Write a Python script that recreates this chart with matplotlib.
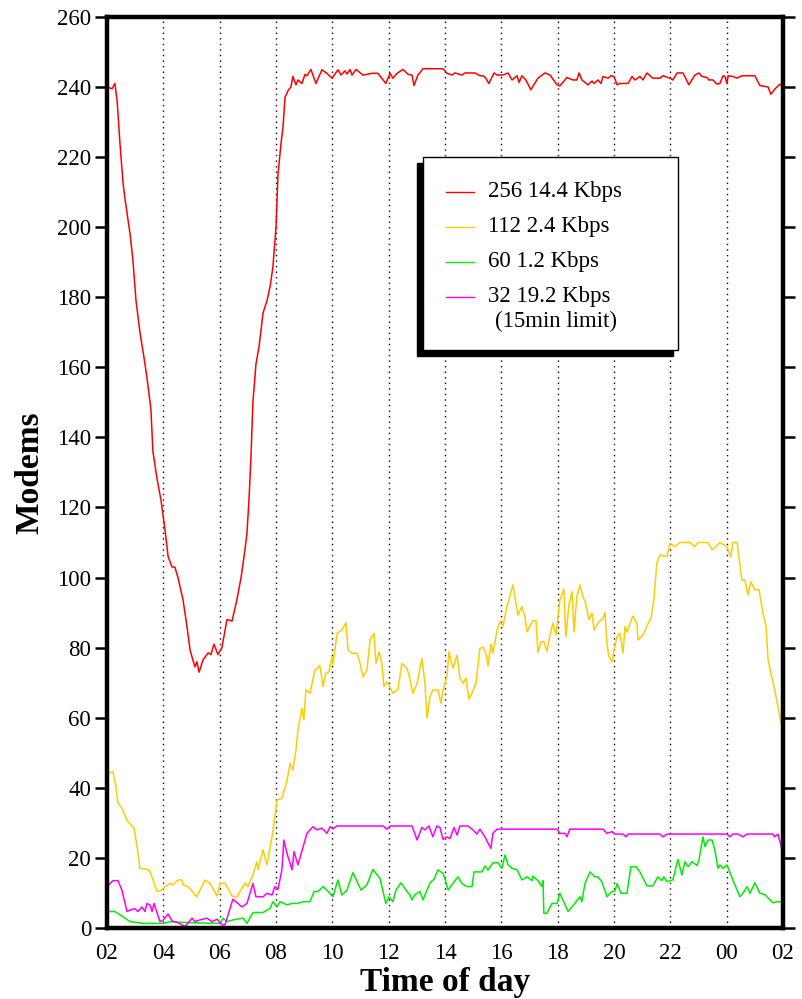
import matplotlib
matplotlib.use("Agg")
import matplotlib.pyplot as plt
from matplotlib.patches import Rectangle
from matplotlib.lines import Line2D

plt.rcParams['font.family'] = ['Liberation Serif', 'DejaVu Serif']

# time in hours since midnight of day 1 (02:00 .. 02:00 next day)
red_t = [2.00, 2.18, 2.28, 2.36, 2.46, 2.57, 2.64, 2.82, 2.92, 3.03, 3.17, 3.31, 3.42, 3.56, 3.63,
         3.78, 3.92, 4.06, 4.17, 4.31, 4.41, 4.52, 4.70, 4.84, 4.95, 5.12, 5.19, 5.27, 5.41, 5.59,
         5.69, 5.80, 5.94, 6.08, 6.26, 6.44, 6.61, 6.76, 6.90, 6.97, 7.04, 7.11, 7.18, 7.29, 7.40,
         7.54, 7.68, 7.79, 7.89, 8.00, 8.07, 8.18, 8.25, 8.32, 8.43, 8.53, 8.60, 8.71, 8.78, 8.92,
         9.03, 9.10, 9.24, 9.42, 9.63, 9.81, 9.99, 10.20, 10.31, 10.45, 10.52, 10.63, 10.70, 10.84,
         11.09, 11.41, 11.62, 11.90, 12.05, 12.15, 12.30, 12.51, 12.69, 12.83, 12.90, 13.04, 13.22,
         13.93, 14.07, 14.25, 14.35, 14.60, 14.71, 15.06, 15.24, 15.35, 15.45, 15.56, 15.74, 15.85,
         16.06, 16.24, 16.38, 16.56, 16.63, 16.73, 16.87, 17.05, 17.30, 17.55, 17.73, 17.98, 18.08,
         18.33, 18.54, 18.68, 18.76, 18.86, 19.08, 19.22, 19.29, 19.43, 19.54, 19.61, 19.79, 19.89,
         20.00, 20.11, 20.21, 20.50, 20.64, 20.74, 20.92, 21.03, 21.17, 21.38, 21.63, 21.74, 21.99,
         22.09, 22.24, 22.45, 22.66, 22.87, 23.02, 23.12, 23.30, 23.37, 23.51, 23.66, 23.76, 23.87,
         23.94, 24.01, 24.05, 24.22, 24.37, 24.54, 25.00, 25.18, 25.47, 25.57, 25.71, 25.89, 26.00]
red_v = [240, 239.5, 241, 236, 224, 212.6, 208, 198, 190.6, 179, 170, 163, 157, 148, 136,
         128, 122, 113.6, 106, 103, 103, 100, 93.6, 86, 79.3, 74.5, 76, 73, 76.5, 78.5,
         78, 81, 78, 80, 88, 87.6, 93.6, 100, 108, 112.7, 122, 134, 150, 161, 166,
         175.5, 179, 183, 188.6, 200, 215, 224, 228.6, 237, 239, 240, 243, 240.6, 242, 241,
         243.6, 243.2, 245, 241, 244.9, 243.9, 242.5, 244.9, 243.4, 244.6, 243.7, 245, 243.4, 245,
         243.4, 243.9, 243.9, 241, 243.9, 242.5, 243.9, 245, 243.6, 243.4, 240.4, 243.4, 245.2,
         245.2, 243.9, 243.4, 244, 243.4, 244, 244, 243.2, 243.2, 242.5, 241, 244, 243.4,
         243.4, 244, 242, 243.2, 241.3, 243.2, 242, 239.2, 242.5, 244, 243.4, 240.6, 240.3,
         242.7, 242, 242, 244, 242, 240.6, 241.7, 241, 242, 241, 243, 242.5, 243.2,
         243, 240.6, 241, 241, 243, 242, 243, 242, 244, 242.5, 242.5, 243.2, 242.5,
         242, 244, 244, 240.6, 243.4, 244, 243, 242.7, 242, 242, 240.8, 241, 243.2,
         243, 241, 243.2, 243, 242.5, 243.2, 243.2, 240.4, 240, 237.9, 239.4, 240.8, 240]

yel_t = [2.00, 2.07, 2.21, 2.32, 2.39, 2.53, 2.71, 2.89, 2.96, 3.07, 3.17, 3.46, 3.53, 3.78, 3.95,
         4.06, 4.24, 4.34, 4.52, 4.66, 4.70, 4.88, 5.19, 5.48, 5.66, 5.91, 6.01, 6.19, 6.44, 6.61,
         6.72, 6.90, 7.00, 7.18, 7.32, 7.36, 7.54, 7.68, 7.86, 8.04, 8.21, 8.39, 8.50, 8.60, 8.71,
         8.78, 8.92, 8.99, 9.06, 9.21, 9.38, 9.56, 9.67, 9.77, 9.88, 9.99, 10.02, 10.17, 10.34,
         10.48, 10.56, 10.70, 10.88, 10.98, 11.09, 11.23, 11.34, 11.48, 11.55, 11.66, 11.76, 11.83,
         11.94, 12.15, 12.33, 12.47, 12.65, 12.72, 12.86, 13.01, 13.18, 13.29, 13.36, 13.47, 13.57,
         13.75, 13.86, 13.93, 14.07, 14.14, 14.28, 14.43, 14.53, 14.64, 14.74, 14.85, 14.96, 15.10,
         15.24, 15.35, 15.45, 15.53, 15.63, 15.70, 15.85, 15.95, 16.06, 16.20, 16.41, 16.59, 16.73,
         16.84, 16.91, 17.12, 17.23, 17.30, 17.41, 17.51, 17.62, 17.73, 17.83, 17.94, 18.08, 18.22,
         18.29, 18.40, 18.51, 18.58, 18.68, 18.79, 18.90, 19.00, 19.11, 19.22, 19.29, 19.43, 19.61,
         19.68, 19.75, 19.82, 19.93, 20.00, 20.11, 20.21, 20.32, 20.39, 20.46, 20.67, 20.82, 20.85,
         21.03, 21.24, 21.31, 21.42, 21.52, 21.63, 21.74, 21.88, 21.99, 22.16, 22.34, 22.70, 22.87,
         22.98, 23.34, 23.48, 23.58, 23.76, 24.01, 24.15, 24.22, 24.37, 24.54, 24.65, 24.76, 24.86,
         25.00, 25.15, 25.29, 25.40, 25.47, 25.61, 25.71, 25.82, 25.96, 26.00]
yel_v = [44, 44.2, 44.6, 40.3, 35.7, 34.2, 30.8, 29.1, 28.5, 23.2, 17, 16.7, 16, 10.4, 10.8,
         11.8, 12.7, 12.3, 13.7, 13.7, 12.3, 11.8, 8.9, 13.7, 12.7, 9.1, 12.6, 12.8, 9.1, 8.9,
         10.4, 12.8, 11.8, 15.1, 18.9, 16.6, 22.3, 18, 26, 36.5, 37, 42, 47, 45, 50.8,
         56.5, 62.7, 59.4, 67.9, 67, 73.6, 74.8, 68.9, 72.7, 73.1, 77.4, 75.1, 84.1, 85,
         87.1, 79.3, 78.4, 78.4, 75.6, 71.7, 73.6, 82.2, 84.1, 75.5, 78.8, 75.5, 68.9,
         70.3, 67, 68.1, 75.5, 74.1, 72.2, 67, 69.8, 77, 69.8, 59.9, 66, 67.9,
         67.9, 64.1, 67.9, 71.7, 78.8, 74.1, 77.9, 71.3, 69.8, 71.3, 65.3, 67, 69.8,
         79.8, 80.1, 78.4, 74.8, 81, 78.4, 85, 87.4, 86.2, 91.7, 97.9, 89.3, 91.7,
         88.8, 84.5, 87.7, 87.7, 78.6, 81.7, 81.7, 79, 83.6, 87, 83.6, 93.6, 96.7,
         83.1, 92.2, 96, 84.5, 94.5, 97.9, 94.5, 92.6, 88, 89.8, 85, 87, 88.4,
         90, 81.2, 77.4, 76, 79.3, 83.1, 84.1, 78.4, 86, 84.5, 89, 86.8, 82.2,
         83.6, 87.4, 88, 94, 104, 106.5, 106.2, 106, 109.8, 108.8, 110, 110, 108.8,
         110, 110, 108, 108.5, 110, 108.8, 106, 110, 110, 99.3, 99.3, 95, 98.8,
         96.5, 96.5, 89.8, 86, 76.5, 71.3, 67.9, 63.2, 57.4, 52]

grn_t = [2.00, 2.28, 2.57, 2.82, 3.28, 3.99, 4.24, 4.95, 6.01, 6.12, 6.26, 6.47, 6.83, 6.97, 7.18,
         7.54, 7.79, 7.89, 8.04, 8.14, 8.39, 8.57, 8.75, 8.96, 9.21, 9.35, 9.49, 9.67, 9.81, 10.02,
         10.20, 10.34, 10.52, 10.73, 11.02, 11.23, 11.44, 11.69, 11.90, 12.01, 12.15, 12.26, 12.44,
         12.65, 12.76, 12.83, 12.93, 13.11, 13.22, 13.36, 13.47, 13.61, 13.75, 13.93, 14.00, 14.11,
         14.28, 14.46, 14.60, 14.78, 14.96, 15.03, 15.31, 15.42, 15.53, 15.70, 15.88, 16.02, 16.13,
         16.24, 16.38, 16.56, 16.73, 16.91, 17.09, 17.12, 17.30, 17.44, 17.48, 17.51, 17.62, 17.80,
         17.98, 18.08, 18.37, 18.61, 18.79, 18.86, 18.97, 19.15, 19.32, 19.43, 19.57, 19.75, 19.93,
         20.03, 20.11, 20.25, 20.46, 20.60, 20.78, 20.92, 21.17, 21.38, 21.56, 21.70, 21.77, 21.88,
         22.09, 22.27, 22.41, 22.52, 22.63, 22.77, 22.95, 23.02, 23.16, 23.23, 23.34, 23.48, 23.58,
         23.69, 23.76, 23.87, 24.01, 24.22, 24.47, 24.58, 24.72, 24.83, 25.00, 25.18, 25.36, 25.54,
         25.64, 25.82, 26.00]
grn_v = [4.7, 4.7, 3.2, 1.8, 1.3, 1.3, 1.8, 1.5, 1.3, 2.8, 1.8, 2.3, 2.8, 1.3, 4.4,
         4.4, 5.6, 7.5, 6, 7.5, 6.6, 7, 7, 7.5, 7.5, 10.4, 10.4, 11.8, 10.8, 8.9,
         13.7, 9.4, 10.8, 15.8, 10.8, 12.3, 16.7, 14.2, 7, 8.9, 7.5, 10.8, 12.9,
         10.4, 9.4, 8, 9.5, 10.4, 8, 10.8, 12.9, 13.9, 16.6, 15.6, 14, 10.8,
         12.7, 14.6, 12.7, 11.8, 11.8, 16, 16, 17.7, 16.5, 18.6, 18.6, 17, 20.8,
         18, 17, 16.6, 13.7, 14.6, 13.5, 14.8, 13.5, 11.8, 13.5, 4.2, 4.2, 7,
         7, 9.9, 4.7, 7, 8.9, 7.5, 12.7, 16, 14.6, 14.6, 13.2, 8.9, 10.4,
         10.4, 12.7, 9.9, 9.9, 17.5, 17.5, 16, 12, 12, 14.6, 13.5, 14.6, 13.2,
         13.7, 19.6, 15.1, 18.9, 17.5, 18.9, 17.8, 19.6, 26, 23.2, 25.1, 25.1, 22.3,
         17, 18, 17, 18, 13.7, 8.9, 9.9, 11.8, 9.9, 12.9, 9.9, 9.5, 8,
         7.2, 7.5, 7.5]

mag_t = [2.00, 2.21, 2.39, 2.53, 2.71, 2.82, 2.99, 3.10, 3.24, 3.35, 3.42, 3.53, 3.60, 3.67, 3.88,
         3.99, 4.17, 4.31, 4.52, 4.77, 5.02, 5.12, 5.30, 5.55, 5.73, 5.91, 6.08, 6.19, 6.47, 6.65,
         6.79, 6.97, 7.18, 7.29, 7.54, 7.68, 7.86, 7.96, 8.07, 8.21, 8.28, 8.39, 8.57, 8.64, 8.78,
         9.10, 9.31, 9.45, 9.63, 9.81, 9.92, 10.02, 10.17, 11.80, 11.94, 12.05, 12.83, 13.01, 13.18,
         13.29, 13.43, 13.57, 13.71, 13.82, 13.93, 14.07, 14.18, 14.32, 14.43, 14.53, 14.82, 14.99,
         15.13, 15.24, 15.42, 15.53, 15.63, 15.70, 15.85, 17.98, 18.08, 18.26, 18.33, 18.43, 19.61,
         19.75, 19.93, 20.03, 20.32, 20.43, 20.50, 21.63, 21.74, 21.88, 24.01, 24.12, 24.22, 24.40,
         24.58, 24.72, 25.64, 25.71, 25.82, 26.00]
mag_v = [11.8, 13.5, 13.5, 10.8, 4.7, 5.1, 5.5, 4.7, 6, 4.7, 7, 6.5, 4.7, 7, 1.8,
         2.2, 4, 2, 1.5, 0.4, 2.8, 1.8, 2.3, 2.8, 1.8, 2.5, 0.9, 0.9, 8.2, 7,
         6, 7, 12.7, 8.9, 8.9, 9.9, 9.4, 11.8, 11, 16.6, 25.1, 21.3, 16.6, 21.8, 18,
         27, 28.9, 28, 28.5, 27, 28.9, 28.3, 29.1, 29.1, 28.2, 29.1, 29.1, 25.1, 28.7,
         28, 29.1, 26, 29.1, 28.7, 25.3, 26, 25.5, 28.7, 26.5, 29.1, 29.1, 28,
         26.8, 28.2, 26, 24.2, 22.7, 27, 28.2, 28.2, 27, 27, 26, 28.2, 28.2,
         27, 27.5, 26.8, 26.8, 26, 26.8, 26.8, 26, 26.8, 26.8, 26, 26.8, 26.8,
         26, 26.8, 26.8, 26, 26.8, 21.3]

series = [
    (red_t, red_v, '#ff0000', '256 14.4 Kbps'),
    (yel_t, yel_v, '#ffcc00', '112 2.4 Kbps'),
    (grn_t, grn_v, '#00ee00', '60 1.2 Kbps'),
    (mag_t, mag_v, '#ff00ff', '32 19.2 Kbps'),
]

xticks = list(range(2, 27, 2))
xlabels = ['%02d' % (h % 24) for h in xticks]

fig = plt.figure(figsize=(8.02, 9.99), dpi=100)
ax = fig.add_axes([0.1334, 0.0711, 0.8429, 0.912])

for t, v, c, lab in series:
    ax.plot(t, v, color=c, lw=1.1)

ax.set_xlim(2, 26)
ax.set_ylim(0, 260)
ax.set_xticks(xticks)
ax.set_xticklabels(xlabels)
ax.set_yticks(range(0, 261, 20))

# dotted verticals every 2 hours
for h in xticks[1:-1]:
    ax.axvline(h, color='black', lw=1.0, ls=(0, (1, 3)), zorder=0)

for s in ax.spines.values():
    s.set_linewidth(3.2)
ax.yaxis.set_ticks_position('both')
ax.tick_params(axis='y', width=1.8, labelsize=16.5, pad=3)
ax.tick_params(axis='y', which='both', left=True, right=True, direction='in', length=7)
ax.tick_params(axis='y', left=True, direction='out', length=8.5)
ax.tick_params(axis='x', length=0, labelsize=16.5, pad=11)

ax.set_xlabel('Time of day', fontsize=24, fontweight='bold', labelpad=2)
ax.set_ylabel('Modems', fontsize=24, fontweight='bold', labelpad=8)

# legend box with shadow
ax.add_patch(Rectangle((0.4586, 0.6279), 0.3787, 0.2118, transform=ax.transAxes,
                       facecolor='black', edgecolor='black', zorder=5))
ax.add_patch(Rectangle((0.4675, 0.6345), 0.3772, 0.2118, transform=ax.transAxes,
                       facecolor='white', edgecolor='black', lw=1.0, zorder=6))
rows = [0.8079, 0.7695, 0.7311, 0.6927]
for (t, v, c, lab), yy in zip(series, rows):
    ax.add_line(Line2D([0.5015, 0.5429], [yy, yy], transform=ax.transAxes, color=c, lw=1.0, zorder=7))
    ax.text(0.5636, yy, lab, transform=ax.transAxes, fontsize=16.5, va='center', ha='left', zorder=7)
ax.text(0.574, 0.6652, '(15min limit)', transform=ax.transAxes, fontsize=16.5, va='center', ha='left', zorder=7)

fig.savefig('out.png', dpi=100)
